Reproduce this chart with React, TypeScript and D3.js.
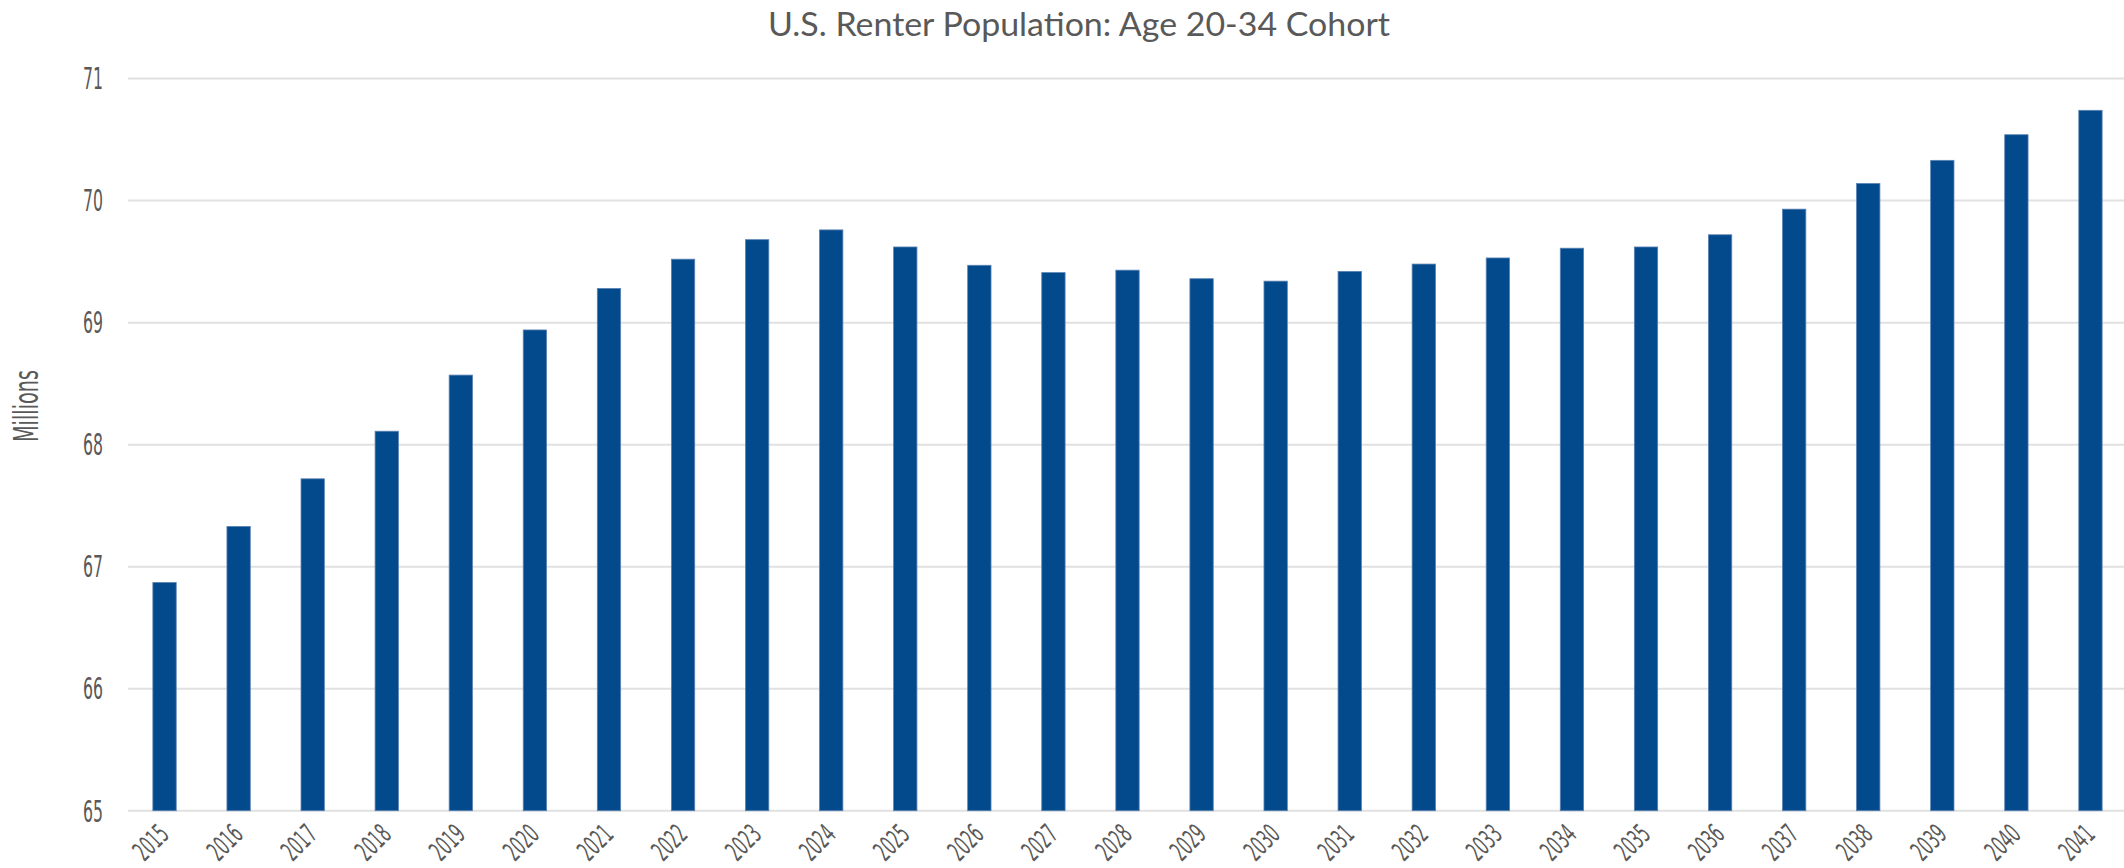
import React, { useEffect, useRef } from 'react';
import * as d3 from 'd3';

const width = 2124;
const height = 868;

const years = [
  '2015', '2016', '2017', '2018', '2019', '2020', '2021', '2022', '2023',
  '2024', '2025', '2026', '2027', '2028', '2029', '2030', '2031', '2032',
  '2033', '2034', '2035', '2036', '2037', '2038', '2039', '2040', '2041',
];
const renters = [
  66.87, 67.33, 67.72, 68.11, 68.57, 68.94, 69.28, 69.52, 69.68,
  69.76, 69.62, 69.47, 69.41, 69.43, 69.36, 69.34, 69.42, 69.48,
  69.53, 69.61, 69.62, 69.72, 69.93, 70.14, 70.33, 70.54, 70.74,
];
const yTicks = [65, 66, 67, 68, 69, 70, 71];

const title = 'U.S. Renter Population: Age 20-34 Cohort';
const yTitle = 'Millions';

const narrow = "'Liberation Sans Narrow', 'DejaVu Sans Condensed', 'DejaVu Sans', sans-serif";

export default function App() {
  const ref = useRef<SVGSVGElement>(null);

  useEffect(() => {
    const svg = d3.select(ref.current);
    svg.selectAll('*').remove();

    const x = d3.scaleBand()
      .domain(years)
      .range([127.5, 2127.5])
      .paddingInner(0.685)
      .paddingOuter(0.3425);

    const y = d3.scaleLinear()
      .domain([65, 71])
      .range([810.7, 78.6]);

    // gridlines
    svg.append('g')
      .selectAll('line')
      .data(yTicks)
      .enter()
      .append('line')
      .attr('x1', 128)
      .attr('x2', width)
      .attr('y1', (d) => y(d))
      .attr('y2', (d) => y(d))
      .attr('stroke', '#e1e1e1')
      .attr('stroke-width', 2);

    // y tick labels
    svg.append('g')
      .selectAll('text')
      .data(yTicks)
      .enter()
      .append('text')
      .attr('x', 103)
      .attr('y', (d) => y(d))
      .attr('dy', '0.36em')
      .attr('text-anchor', 'end')
      .attr('font-family', narrow)
      .attr('font-size', 30)
      .attr('fill', '#595959')
      .attr('textLength', 20)
      .attr('lengthAdjust', 'spacingAndGlyphs')
      .text((d) => String(d));

    // bars
    svg.append('g')
      .selectAll('rect')
      .data(renters)
      .enter()
      .append('rect')
      .attr('x', (d, i) => x(years[i]) as number)
      .attr('width', x.bandwidth())
      .attr('y', (d) => y(d))
      .attr('height', (d) => y(65) - y(d))
      .attr('fill', '#024a8c')
      .attr('stroke', '#5a82b2')
      .attr('stroke-width', 0.8);

    // x labels
    svg.append('g')
      .selectAll('text')
      .data(years)
      .enter()
      .append('text')
      .attr('transform', (d) => {
        const cx = (x(d) as number) + x.bandwidth() / 2 + 6;
        return 'translate(' + cx + ',' + 836 + ') rotate(-45)';
      })
      .attr('text-anchor', 'end')
      .attr('font-family', narrow)
      .attr('font-size', 27)
      .attr('fill', '#595959')
      .attr('textLength', 37)
      .attr('lengthAdjust', 'spacingAndGlyphs')
      .text((d) => d);

    // y axis title
    svg.append('text')
      .attr('transform', 'translate(38,406) rotate(-90)')
      .attr('text-anchor', 'middle')
      .attr('font-family', narrow)
      .attr('font-size', 33)
      .attr('fill', '#595959')
      .attr('textLength', 72)
      .attr('lengthAdjust', 'spacingAndGlyphs')
      .text(yTitle);

    // chart title
    svg.append('text')
      .attr('x', 768)
      .attr('y', 36)
      .attr('font-family', "Lato, 'Open Sans', sans-serif")
      .attr('font-size', 32)
      .attr('fill', '#595959')
      .attr('textLength', 622)
      .attr('lengthAdjust', 'spacingAndGlyphs')
      .text(title);
  }, []);

  return (
    <svg
      ref={ref}
      width={width}
      height={height}
      style={{ position: 'absolute', top: 0, left: 0, background: '#fff' }}
    />
  );
}
